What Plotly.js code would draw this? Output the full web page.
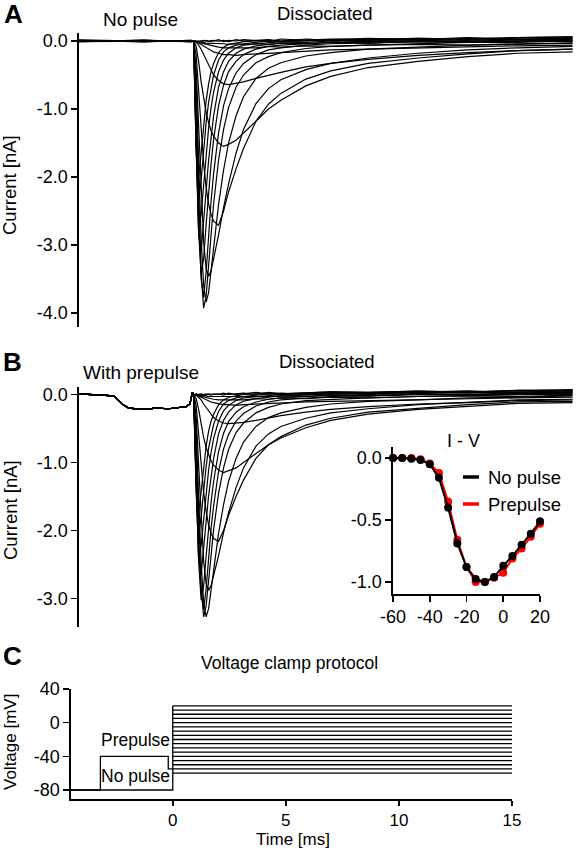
<!DOCTYPE html>
<html><head><meta charset="utf-8">
<script src="https://cdn.plot.ly/plotly-3.0.1.min.js"></script>
<style>html,body{margin:0;padding:0;background:#fff;} #chart{width:584px;height:852px;}</style>
</head><body><div id="chart"></div>
<script>
const W = 584, H = 852;
const FONT = 'Liberation Sans, Arial, Helvetica, sans-serif';

// ---------- step voltages (mV) ----------
const testVoltages = [-60, -55, -50, -45, -40, -35, -30, -25, -20, -15, -10, -5, 0, 5, 10, 15, 20];

// ---------- Panel A: No pulse (time ms, current nA) ----------
const timeA = [-4.6, -2, -0.1, 0, 0.1, 0.2, 0.3, 0.4, 0.5, 0.6, 0.7, 0.8, 1.0, 1.2, 1.4, 1.7, 2.0, 2.5, 3.0, 3.5, 4.5, 5.5, 7, 9, 11, 13, 15.2];
const curA_m60 = [0.01, -0.01, 0.01, 0, 0.0, -0.01, 0.0, 0.01, 0.0, -0.01, 0.01, 0.0, 0.02, -0.01, 0.01, 0.0, 0.02, 0.01, -0.01, 0.03, 0.01, 0.02, 0.04, 0.02, 0.05, 0.03, 0.04];
const curA_m55 = [-0.01, 0.01, 0, 0, -0.01, 0.0, -0.01, 0.0, 0.01, 0.0, -0.01, 0.01, 0.0, 0.01, -0.01, 0.02, 0.0, 0.01, 0.02, 0.0, 0.03, 0.01, 0.02, 0.04, 0.03, 0.05, 0.06];
const curA_m50 = [0.0, 0.01, -0.01, 0, -0.01, -0.01, -0.02, -0.02, -0.03, -0.03, -0.03, -0.04, -0.04, -0.04, -0.05, -0.04, -0.05, -0.04, -0.05, -0.03, -0.04, -0.02, -0.03, -0.01, -0.02, 0.0, -0.01];
const curA_m45 = [0.01, 0.0, 0.0, 0, -0.01, -0.02, -0.03, -0.04, -0.05, -0.06, -0.07, -0.08, -0.09, -0.1, -0.1, -0.1, -0.09, -0.1, -0.08, -0.09, -0.07, -0.08, -0.06, -0.05, -0.06, -0.04, -0.03];
const curA_m40 = [0.0, -0.01, 0.01, 0, -0.01, -0.03, -0.05, -0.07, -0.1, -0.12, -0.14, -0.16, -0.18, -0.2, -0.2, -0.21, -0.2, -0.19, -0.18, -0.17, -0.15, -0.13, -0.12, -0.1, -0.08, -0.07, -0.06];
const curA_m35 = [0.0, 0.01, -0.01, 0, -0.02, -0.06, -0.12, -0.2, -0.28, -0.36, -0.43, -0.5, -0.58, -0.63, -0.64, -0.62, -0.6, -0.55, -0.5, -0.46, -0.38, -0.33, -0.27, -0.21, -0.17, -0.14, -0.12];
const curA_m30 = [0.01, 0.0, 0.0, 0, -0.08, -0.3, -0.6, -0.85, -1.05, -1.2, -1.32, -1.4, -1.5, -1.55, -1.52, -1.46, -1.36, -1.18, -1.0, -0.87, -0.66, -0.52, -0.39, -0.3, -0.23, -0.18, -0.16];
const curA_m25 = [-0.01, 0.01, 0.0, 0, -0.2, -0.7, -1.3, -1.8, -2.15, -2.4, -2.55, -2.65, -2.71, -2.5, -2.22, -1.88, -1.58, -1.18, -0.93, -0.77, -0.56, -0.44, -0.33, -0.25, -0.19, -0.14, -0.12];
const curA_m20 = [0.0, 0.0, 0.01, 0, -0.4, -1.3, -2.3, -2.95, -3.35, -3.46, -3.38, -3.22, -2.85, -2.45, -2.1, -1.65, -1.3, -0.92, -0.7, -0.57, -0.42, -0.33, -0.25, -0.18, -0.13, -0.1, -0.08];
const curA_m15 = [0.01, -0.01, 0.0, 0, -0.6, -1.8, -2.9, -3.6, -3.84, -3.7, -3.4, -3.05, -2.4, -1.9, -1.5, -1.1, -0.82, -0.55, -0.4, -0.32, -0.22, -0.17, -0.12, -0.09, -0.06, -0.05, -0.03];
const curA_m10 = [0.0, 0.01, -0.01, 0, -0.9, -2.3, -3.4, -3.93, -3.75, -3.3, -2.85, -2.4, -1.75, -1.3, -0.98, -0.68, -0.5, -0.32, -0.23, -0.17, -0.11, -0.08, -0.06, -0.04, -0.02, -0.02, 0.0];
const curA_m5  = [0.0, 0.0, 0.01, 0, -1.1, -2.6, -3.5, -3.77, -3.4, -2.85, -2.35, -1.95, -1.35, -0.95, -0.7, -0.47, -0.33, -0.2, -0.13, -0.1, -0.06, -0.04, -0.03, -0.01, -0.02, 0.0, 0.01];
const curA_0   = [0.01, 0.0, 0.0, 0, -1.3, -2.8, -3.42, -3.2, -2.7, -2.2, -1.8, -1.45, -0.95, -0.65, -0.45, -0.3, -0.2, -0.12, -0.08, -0.06, -0.04, -0.02, -0.03, 0.0, -0.01, 0.02, 0.01];
const curA_p5  = [0.0, -0.01, 0.0, 0, -1.5, -2.85, -3.1, -2.7, -2.2, -1.75, -1.38, -1.1, -0.68, -0.45, -0.3, -0.18, -0.12, -0.07, -0.05, -0.03, -0.02, 0.0, -0.01, 0.01, 0.02, 0.0, 0.03];
const curA_p10 = [-0.01, 0.0, 0.0, 0, -1.6, -2.75, -2.55, -2.1, -1.65, -1.28, -0.98, -0.75, -0.45, -0.28, -0.18, -0.1, -0.06, -0.04, -0.02, -0.01, 0.0, 0.01, 0.0, 0.02, 0.01, 0.03, 0.02];
const curA_p15 = [0.0, 0.0, -0.01, 0, -1.6, -2.36, -2.05, -1.6, -1.2, -0.9, -0.67, -0.5, -0.28, -0.16, -0.1, -0.06, -0.04, -0.02, 0.0, -0.01, 0.01, 0.02, 0.01, 0.03, 0.04, 0.02, 0.05];
const curA_p20 = [0.01, 0.0, 0.0, 0, -1.5, -2.0, -1.65, -1.22, -0.88, -0.63, -0.45, -0.33, -0.17, -0.09, -0.05, -0.03, -0.01, 0.0, 0.01, 0.0, 0.02, 0.03, 0.02, 0.04, 0.03, 0.05, 0.06];

// ---------- Panel B: With prepulse ----------
const timeBpre = [-4.6, -3.4, -3.2, -3.0, -2.8, -2.6, -2.0, -1.5, -1.0, -0.3, -0.15, -0.05];
const prepulseCurrentB = [0.01, -0.01, -0.02, -0.09, -0.16, -0.2, -0.22, -0.2, -0.21, -0.18, -0.14, 0.03];
const timeBpost = [0, 0.1, 0.2, 0.3, 0.4, 0.5, 0.6, 0.7, 0.8, 1.0, 1.2, 1.4, 1.7, 2.0, 2.5, 3.0, 3.5, 4.5, 5.5, 7, 9, 11, 13, 15.2];
const curB_m60 = [0, 0.01, 0.0, -0.01, 0.0, 0.01, 0.0, -0.01, 0.01, 0.0, 0.02, 0.0, 0.01, 0.02, 0.0, 0.03, 0.01, 0.02, 0.04, 0.03, 0.05, 0.03, 0.06, 0.05];
const curB_m55 = [0, -0.01, 0.0, 0.01, 0.0, -0.01, 0.01, 0.0, 0.0, 0.01, -0.01, 0.02, 0.0, 0.01, 0.03, 0.01, 0.02, 0.0, 0.03, 0.02, 0.04, 0.05, 0.03, 0.06];
const curB_m50 = [0, -0.01, -0.01, -0.02, -0.02, -0.02, -0.03, -0.03, -0.03, -0.04, -0.04, -0.03, -0.04, -0.03, -0.04, -0.03, -0.02, -0.03, -0.01, -0.02, 0.0, -0.01, 0.01, 0.0];
const curB_m45 = [0, -0.01, -0.02, -0.03, -0.04, -0.05, -0.06, -0.06, -0.07, -0.08, -0.08, -0.08, -0.07, -0.08, -0.06, -0.07, -0.05, -0.06, -0.04, -0.05, -0.03, -0.02, -0.03, -0.01];
const curB_m40 = [0, -0.01, -0.02, -0.04, -0.06, -0.08, -0.09, -0.11, -0.12, -0.14, -0.15, -0.15, -0.16, -0.15, -0.14, -0.14, -0.13, -0.11, -0.1, -0.09, -0.07, -0.06, -0.05, -0.04];
const curB_m35 = [0, -0.01, -0.04, -0.08, -0.14, -0.19, -0.25, -0.3, -0.34, -0.39, -0.42, -0.43, -0.42, -0.41, -0.38, -0.34, -0.31, -0.26, -0.22, -0.18, -0.14, -0.12, -0.09, -0.08];
const curB_m30 = [0, -0.06, -0.22, -0.44, -0.63, -0.78, -0.89, -0.98, -1.04, -1.11, -1.15, -1.12, -1.08, -1.0, -0.87, -0.74, -0.64, -0.49, -0.38, -0.29, -0.22, -0.17, -0.13, -0.12];
const curB_m25 = [0, -0.16, -0.56, -1.04, -1.44, -1.72, -1.92, -2.04, -2.12, -2.16, -2.0, -1.78, -1.5, -1.26, -0.94, -0.74, -0.62, -0.45, -0.35, -0.26, -0.2, -0.15, -0.11, -0.1];
const curB_m20 = [0, -0.33, -1.08, -1.91, -2.45, -2.78, -2.88, -2.81, -2.67, -2.37, -2.03, -1.74, -1.37, -1.08, -0.76, -0.58, -0.47, -0.35, -0.27, -0.21, -0.15, -0.11, -0.08, -0.07];
const curB_m15 = [0, -0.51, -1.53, -2.47, -3.06, -3.27, -3.15, -2.89, -2.59, -2.04, -1.62, -1.28, -0.94, -0.7, -0.47, -0.34, -0.27, -0.19, -0.14, -0.1, -0.08, -0.05, -0.04, -0.02];
const curB_m10 = [0, -0.75, -1.91, -2.82, -3.27, -3.11, -2.74, -2.37, -1.99, -1.45, -1.08, -0.81, -0.56, -0.42, -0.27, -0.19, -0.14, -0.09, -0.07, -0.05, -0.03, -0.02, -0.01, 0.01];
const curB_m5  = [0, -0.92, -2.18, -2.94, -3.16, -2.86, -2.39, -1.97, -1.64, -1.13, -0.8, -0.59, -0.39, -0.28, -0.17, -0.11, -0.08, -0.05, -0.03, -0.02, 0.0, -0.01, 0.01, 0.02];
const curB_0   = [0, -1.14, -2.46, -3.02, -2.82, -2.38, -1.94, -1.58, -1.28, -0.84, -0.57, -0.4, -0.26, -0.18, -0.11, -0.07, -0.05, -0.03, -0.01, -0.02, 0.01, 0.0, 0.02, 0.03];
const curB_p5  = [0, -1.28, -2.42, -2.65, -2.3, -1.87, -1.49, -1.17, -0.94, -0.58, -0.38, -0.26, -0.15, -0.1, -0.06, -0.04, -0.02, -0.01, 0.01, 0.0, 0.02, 0.03, 0.01, 0.04];
const curB_p10 = [0, -1.39, -2.39, -2.22, -1.83, -1.44, -1.11, -0.85, -0.65, -0.39, -0.24, -0.16, -0.09, -0.05, -0.03, -0.01, 0.0, 0.01, 0.02, 0.01, 0.03, 0.02, 0.04, 0.03];
const curB_p15 = [0, -1.41, -2.08, -1.8, -1.41, -1.06, -0.79, -0.59, -0.44, -0.25, -0.14, -0.09, -0.05, -0.03, -0.01, 0.01, 0.0, 0.02, 0.03, 0.02, 0.04, 0.05, 0.03, 0.06];
const curB_p20 = [0, -1.3, -1.73, -1.43, -1.06, -0.76, -0.54, -0.39, -0.29, -0.15, -0.08, -0.04, -0.02, 0.0, 0.01, 0.02, 0.01, 0.03, 0.04, 0.03, 0.05, 0.04, 0.06, 0.07];

// ---------- Inset: normalized I-V ----------
const ivVoltage  = [-60, -55, -50, -45, -40, -35, -30, -25, -20, -15, -10, -5, 0, 5, 10, 15, 20];
const ivNoPulse  = [0, 0, -0.005, -0.015, -0.05, -0.16, -0.40, -0.69, -0.88, -0.975, -1.0, -0.96, -0.87, -0.79, -0.70, -0.61, -0.51];
const ivPrepulse = [0, 0, 0, -0.01, -0.045, -0.12, -0.35, -0.66, -0.88, -1.0, -1.0, -0.965, -0.925, -0.81, -0.73, -0.635, -0.53];

// ---------- Panel C: voltage protocol ----------
const noPulseTime = [-4.5, 0, 0];
const noPulseVolt = [-80, -80, 20];
const prepulseTime = [-4.5, -3.2, -3.2, -0.2, -0.2, 0];
const prepulseVolt = [-80, -80, -40, -40, -55, -55];
const testPulseTime = [0, 15];

// ---------- tick labels ----------
const tickValsA = [0, -1, -2, -3, -4];
const tickTextA = ['0.0', '-1.0', '-2.0', '-3.0', '-4.0'];
const tickValsB = [0, -1, -2, -3];
const tickTextB = ['0.0', '-1.0', '-2.0', '-3.0'];
const tickValsIVy = [0, -0.5, -1];
const tickTextIVy = ['0.0', '-0.5', '-1.0'];
const tickValsIVx = [-60, -40, -20, 0, 20];
const tickTextIVx = ['-60', '-40', '-20', '0', '20'];
const tickValsCy = [40, 0, -40, -80];
const tickTextCy = ['40', '0', '-40', '-80'];
const tickValsCx = [0, 5, 10, 15];
const tickTextCx = ['0', '5', '10', '15'];

// ---------- build ----------
const px = x => x / W;
const py = y => 1 - y / H;

const tracesA = [curA_m60, curA_m55, curA_m50, curA_m45, curA_m40, curA_m35, curA_m30, curA_m25, curA_m20, curA_m15, curA_m10, curA_m5, curA_0, curA_p5, curA_p10, curA_p15, curA_p20];
const tracesB = [curB_m60, curB_m55, curB_m50, curB_m45, curB_m40, curB_m35, curB_m30, curB_m25, curB_m20, curB_m15, curB_m10, curB_m5, curB_0, curB_p5, curB_p10, curB_p15, curB_p20];

const data = [];
const traceLine = {color: '#000', width: 1.2};
tracesA.forEach((ys, i) => data.push({x: timeA, y: ys, type: 'scatter', mode: 'lines', line: traceLine, xaxis: 'x', yaxis: 'y', name: 'A ' + testVoltages[i] + ' mV', hoverinfo: 'skip'}));
const timeB = timeBpre.concat(timeBpost);
tracesB.forEach((ys, i) => data.push({x: timeB, y: prepulseCurrentB.concat(ys), type: 'scatter', mode: 'lines', line: traceLine, xaxis: 'x2', yaxis: 'y2', name: 'B ' + testVoltages[i] + ' mV', hoverinfo: 'skip'}));

data.push({x: ivVoltage, y: ivPrepulse, type: 'scatter', mode: 'lines+markers', line: {color: '#ff0000', width: 2}, marker: {color: '#ff0000', size: 8}, cliponaxis: false, xaxis: 'x3', yaxis: 'y3', name: 'Prepulse'});
data.push({x: ivVoltage, y: ivNoPulse, type: 'scatter', mode: 'lines+markers', line: {color: '#000', width: 2}, marker: {color: '#000', size: 8}, cliponaxis: false, xaxis: 'x3', yaxis: 'y3', name: 'No pulse'});

const protoLine = {color: '#000', width: 1.3};
data.push({x: noPulseTime, y: noPulseVolt, type: 'scatter', mode: 'lines', line: protoLine, xaxis: 'x4', yaxis: 'y4', cliponaxis: false});
data.push({x: prepulseTime, y: prepulseVolt, type: 'scatter', mode: 'lines', line: protoLine, xaxis: 'x4', yaxis: 'y4', cliponaxis: false});
testVoltages.forEach(v => data.push({x: testPulseTime, y: [v, v], type: 'scatter', mode: 'lines', line: protoLine, xaxis: 'x4', yaxis: 'y4', cliponaxis: false}));

const axBase = {showline: true, linecolor: '#000', linewidth: 1.6, ticks: 'outside', ticklen: 6, tickwidth: 1.6, tickcolor: '#000',
  showgrid: false, zeroline: false, fixedrange: true, tickmode: 'array', tickfont: {family: FONT, size: 18, color: '#000'}};

const layout = {
  width: W, height: H, margin: {l: 0, r: 0, t: 0, b: 0}, showlegend: false,
  paper_bgcolor: '#fff', plot_bgcolor: 'rgba(0,0,0,0)', font: {family: FONT, color: '#000'},
  xaxis:  {domain: [px(79), px(575)], range: [-4.6, 15.3], visible: false, fixedrange: true, anchor: 'y'},
  yaxis:  Object.assign({}, axBase, {domain: [py(327), py(33)], range: [-4.206, 0.118], tickvals: tickValsA, ticktext: tickTextA, anchor: 'x'}),
  xaxis2: {domain: [px(79), px(575)], range: [-4.6, 15.3], visible: false, fixedrange: true, anchor: 'y2'},
  yaxis2: Object.assign({}, axBase, {domain: [py(627), py(387)], range: [-3.42, 0.11], tickvals: tickValsB, ticktext: tickTextB, anchor: 'x2'}),
  xaxis3: Object.assign({}, axBase, {domain: [px(393), px(540)], range: [-60, 20], tickvals: tickValsIVx, ticktext: tickTextIVx, anchor: 'y3'}),
  yaxis3: Object.assign({}, axBase, {domain: [py(594), py(447)], range: [-1.097, 0.089], tickvals: tickValsIVy, ticktext: tickTextIVy, anchor: 'x3'}),
  xaxis4: Object.assign({}, axBase, {domain: [px(71), px(512)], range: [-4.5, 15], tickvals: tickValsCx, ticktext: tickTextCx, anchor: 'y4', ticklen: 5, tickfont: {family: FONT, size: 17, color: '#000'}}),
  yaxis4: Object.assign({}, axBase, {domain: [py(799), py(689)], range: [-90.7, 40], tickvals: tickValsCy, ticktext: tickTextCy, anchor: 'x4'}),
  shapes: [
    {type: 'line', xref: 'paper', yref: 'paper', x0: px(463), x1: px(479), y0: py(477), y1: py(477), line: {color: '#000', width: 3.5}},
    {type: 'line', xref: 'paper', yref: 'paper', x0: px(463), x1: px(479), y0: py(504), y1: py(504), line: {color: '#ff0000', width: 3.5}}
  ],
  annotations: []
};

function note(text, x, y, size, opts) {
  layout.annotations.push(Object.assign({text: text, xref: 'paper', yref: 'paper', x: px(x), y: py(y), xanchor: 'center', yanchor: 'middle',
    showarrow: false, font: {family: FONT, size: size, color: '#000'}}, opts || {}));
}
note('<b>A</b>', 13, 14, 26);
note('<b>B</b>', 12, 362, 26);
note('<b>C</b>', 12, 656, 26);
note('No pulse', 140, 19, 19);
note('Dissociated', 325, 1, 18.5, {yanchor: 'top'});
note('With prepulse', 141, 372, 19);
note('Dissociated', 327, 361, 18.5);
note('Voltage clamp protocol', 289, 663, 17.5);
note('Current [nA]', 10, 185, 18.5, {textangle: -90});
note('Current [nA]', 10, 510, 18.5, {textangle: -90});
note('Voltage [mV]', 10, 742, 17, {textangle: -90});
note('Time [ms]', 293, 851, 17, {yanchor: 'bottom'});
note('I - V', 463, 441, 18);
note('No pulse', 486, 477, 18.5, {xanchor: 'left'});
note('Prepulse', 486, 504, 18.5, {xanchor: 'left'});
note('Prepulse', 135, 740, 17.5);
note('No pulse', 135, 776, 17.5);

Plotly.newPlot('chart', data, layout, {staticPlot: true, displayModeBar: false});
</script>
</body></html>
